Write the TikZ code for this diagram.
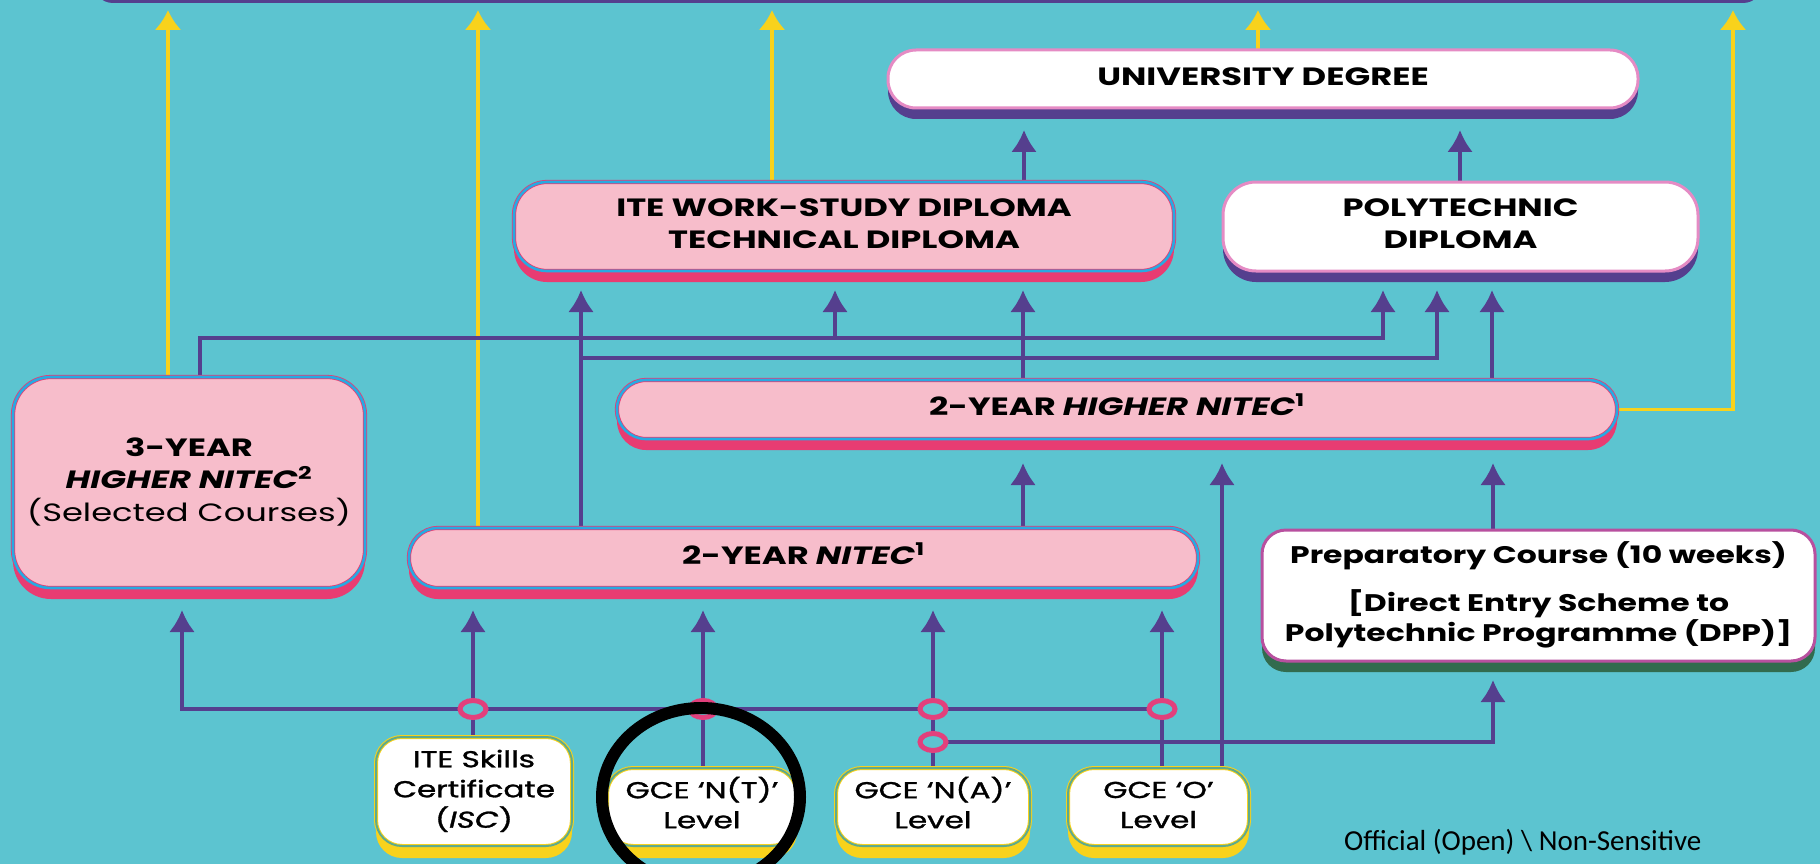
\documentclass[tikz,border=0pt]{standalone}
\usepackage{graphicx}
\usepackage{fontspec}
\setmainfont{Poppins}
\newfontfamily\popmed[FakeBold=1.2]{Poppins}
\newfontfamily\calibri{Carlito}
\usetikzlibrary{arrows.meta,shadows,shapes.geometric}
\definecolor{bg}{HTML}{5CC4D0}
\definecolor{plum}{HTML}{553F8E}
\definecolor{gold}{HTML}{F8D21C}
\definecolor{pinkfill}{HTML}{F7BDCB}
\definecolor{pinkshadow}{HTML}{E83C72}
\definecolor{skyline}{HTML}{28A9E1}
\definecolor{whiteedge}{HTML}{E58BC4}
\definecolor{greenshadow}{HTML}{326B4E}
\definecolor{prepedge}{HTML}{B8509F}
\definecolor{greenedge}{HTML}{5FAA8C}
\definecolor{ringpink}{HTML}{E2407C}
\newcommand{\stretchx}{1.35}
\newcommand{\wtxt}[1]{\scalebox{\stretchx}[1]{\begin{tabular}{@{}c@{}}#1\end{tabular}}}
\begin{document}
\begin{tikzpicture}[x=1pt,y=-1pt,
  pinkbox/.style={fill=pinkfill, draw=pinkshadow, double=skyline, double distance=2.6pt, line width=0.8pt,
    drop shadow={shadow xshift=0pt, shadow yshift=-11pt, fill=pinkshadow, opacity=1}},
  whitebox/.style={fill=white, draw=whiteedge, line width=3pt,
    drop shadow={shadow xshift=0pt, shadow yshift=-11pt, fill=plum, opacity=1}},
  prepbox/.style={fill=white, draw=prepedge, line width=3pt,
    drop shadow={shadow xshift=0pt, shadow yshift=-11pt, fill=greenshadow, opacity=1}},
  lvlbox/.style={fill=white, draw=gold, double=greenedge, double distance=2pt, line width=1pt,
    drop shadow={shadow xshift=0pt, shadow yshift=-12pt, fill=gold, opacity=1}},
  bigtxt/.style={font=\bfseries\fontsize{25}{32}\selectfont},
  smalltxt/.style={font=\popmed\fontsize{23}{30}\selectfont},
  ring/.style={ellipse, draw=ringpink, line width=5pt, fill=bg, minimum width=26pt, minimum height=17pt, inner sep=0pt},
  parrow/.style={draw=plum, line width=4pt, -{Latex[length=22pt,width=26pt]}},
  yarrow/.style={draw=gold, line width=3.5pt, -{Latex[length=20pt,width=27pt]}}
]
\useasboundingbox (0,0) rectangle (1820,864);
\fill[bg] (0,0) rectangle (1820,864);
\node[fill=plum, rounded corners=20pt, minimum width=1670pt, minimum height=44pt, inner sep=0pt] (banner) at (928,-19) {};

% arrow tip coordinates
\coordinate (ya) at (168,10);
\coordinate (yb) at (478,10);
\coordinate (yc) at (772,10);
\coordinate (yd) at (1258,10);
\coordinate (ye) at (1733,10);
\coordinate (tu1) at (1024,130);
\coordinate (tu2) at (1460,130);
\coordinate (ti1) at (581,290);
\coordinate (ti2) at (835,290);
\coordinate (ti3) at (1023,290);
\coordinate (tp1) at (1383,290);
\coordinate (tp2) at (1437,290);
\coordinate (tp3) at (1492,290);
\coordinate (c3y) at (200,338);
\coordinate (cbr) at (581,358);
\coordinate (th1) at (1023,463);
\coordinate (th2) at (1222,463);
\coordinate (th3) at (1493,463);
\coordinate (t3y) at (182,610);
\coordinate (tn1) at (473,610);
\coordinate (tn2) at (703,610);
\coordinate (tn3) at (933,610);
\coordinate (tn4) at (1162,610);
\coordinate (tprep) at (1493,680);

% box anchors (boxes drawn later, over the connectors)
\path
  (1263,79) node[minimum width=750pt, minimum height=58pt, inner sep=0pt] (univ) {}
  (844,226.5) node[minimum width=660pt, minimum height=89pt, inner sep=0pt] (ite) {}
  (1460.5,226.5) node[minimum width=475pt, minimum height=89pt, inner sep=0pt] (poly) {}
  (189,482.5) node[minimum width=352pt, minimum height=211pt, inner sep=0pt] (yr3) {}
  (1117,409.5) node[minimum width=1000pt, minimum height=59pt, inner sep=0pt] (hnitec) {}
  (803.5,558) node[minimum width=789pt, minimum height=60pt, inner sep=0pt] (nitec) {}
  (1538.5,595.5) node[minimum width=553pt, minimum height=131pt, inner sep=0pt] (prep) {}
  (474,791.5) node[minimum width=196pt, minimum height=109pt, inner sep=0pt] (isc) {}
  (702,807) node[minimum width=190pt, minimum height=78pt, inner sep=0pt] (nt) {}
  (933,807) node[minimum width=194pt, minimum height=78pt, inner sep=0pt] (na) {}
  (1158.5,807) node[minimum width=181pt, minimum height=78pt, inner sep=0pt] (olvl) {};

% yellow connectors
\draw[yarrow] (yr3.north -| ya) -- (ya);
\draw[yarrow] (nitec.north -| yb) -- (yb);
\draw[yarrow] (ite.north -| yc) -- (yc);
\draw[yarrow] (univ.north -| yd) -- (yd);
\draw[yarrow] (hnitec.east) -- (hnitec.east -| ye) -- (ye);

% purple connectors
\draw[parrow] (ite.north -| tu1) -- (tu1);
\draw[parrow] (poly.north -| tu2) -- (tu2);
\draw[parrow] (yr3.north -| c3y) -- (c3y) -- (c3y -| tp1) -- (tp1);
\draw[parrow] (c3y -| ti2) -- (ti2);
\draw[parrow] (nitec.north -| ti1) -- (ti1);
\draw[parrow] (cbr) -- (cbr -| tp2) -- (tp2);
\draw[parrow] (hnitec.north -| ti3) -- (ti3);
\draw[parrow] (hnitec.north -| tp3) -- (tp3);
\draw[parrow] (nitec.north -| th1) -- (th1);
\draw[parrow] (olvl.north -| th2) -- (th2);
\draw[parrow] (prep.north -| th3) -- (th3);

% bottom bus
\coordinate (r1) at (473,709);
\coordinate (r2) at (703,709);
\coordinate (r3) at (933,709);
\coordinate (r4) at (1162,709);
\coordinate (r5) at (933,742);
\draw[parrow] (r4) -- (r1 -| t3y) -- (t3y);
\draw[parrow] (isc.north -| tn1) -- (tn1);
\draw[parrow] (nt.north -| tn2) -- (tn2);
\draw[parrow] (na.north -| tn3) -- (tn3);
\draw[parrow] (olvl.north -| tn4) -- (tn4);
\draw[parrow] (r5) -- (r5 -| tprep) -- (tprep);
\foreach \r in {r1,r2,r3,r4,r5} \node[ring] (ring-\r) at (\r) {};

% boxes drawn
\node[whitebox, rounded corners=28pt, minimum width=750pt, minimum height=58pt, bigtxt] at (univ) {\wtxt{UNIVERSITY DEGREE}};
\node[pinkbox, rounded corners=33pt, minimum width=660pt, minimum height=89pt, bigtxt] at (ite) {\wtxt{ITE WORK-STUDY DIPLOMA\\TECHNICAL DIPLOMA}};
\node[whitebox, rounded corners=33pt, minimum width=475pt, minimum height=89pt, bigtxt] at (poly) {\wtxt{POLYTECHNIC\\DIPLOMA}};
\node[pinkbox, rounded corners=38pt, minimum width=352pt, minimum height=211pt, bigtxt] at (yr3) {\wtxt{3-YEAR\\\textit{HIGHER NITEC}\textsuperscript{2}\\\mdseries (Selected Courses)}};
\node[pinkbox, rounded corners=29pt, minimum width=1000pt, minimum height=59pt, bigtxt] at (hnitec) {\wtxt{2-YEAR \textit{HIGHER NITEC}\textsuperscript{1}}};
\node[pinkbox, rounded corners=29pt, minimum width=789pt, minimum height=60pt, bigtxt] at (nitec) {\wtxt{2-YEAR \textit{NITEC}\textsuperscript{1}}};
\node[prepbox, rounded corners=24pt, minimum width=553pt, minimum height=131pt, font=\bfseries\fontsize{24}{27}\selectfont] at (prep) {\scalebox{0.97}[1]{\wtxt{Preparatory Course (10 weeks)\\[18pt]{[}Direct Entry Scheme to\\Polytechnic Programme (DPP)]}}};
\node[lvlbox, rounded corners=26pt, minimum width=196pt, minimum height=109pt, smalltxt] at (isc) {\wtxt{ITE Skills\\Certificate\\(\textit{ISC})}};
\node[lvlbox, rounded corners=26pt, minimum width=190pt, minimum height=78pt, smalltxt] at (nt) {\raisebox{-4pt}{\wtxt{GCE ‘N(T)’\\Level}}};
\node[lvlbox, rounded corners=26pt, minimum width=194pt, minimum height=78pt, smalltxt] at (na) {\raisebox{-4pt}{\wtxt{GCE ‘N(A)’\\Level}}};
\node[lvlbox, rounded corners=26pt, minimum width=181pt, minimum height=78pt, smalltxt] at (olvl) {\raisebox{-4pt}{\wtxt{GCE ‘O’\\Level}}};

\node[font=\calibri\fontsize{29}{33}\selectfont, anchor=west, inner sep=0pt] (official) at (1344,842) {Official (Open) \textbackslash{} Non-Sensitive};

\draw[line width=12pt, black] (701,797) ellipse [x radius=99pt, y radius=89pt];
\end{tikzpicture}
\end{document}
